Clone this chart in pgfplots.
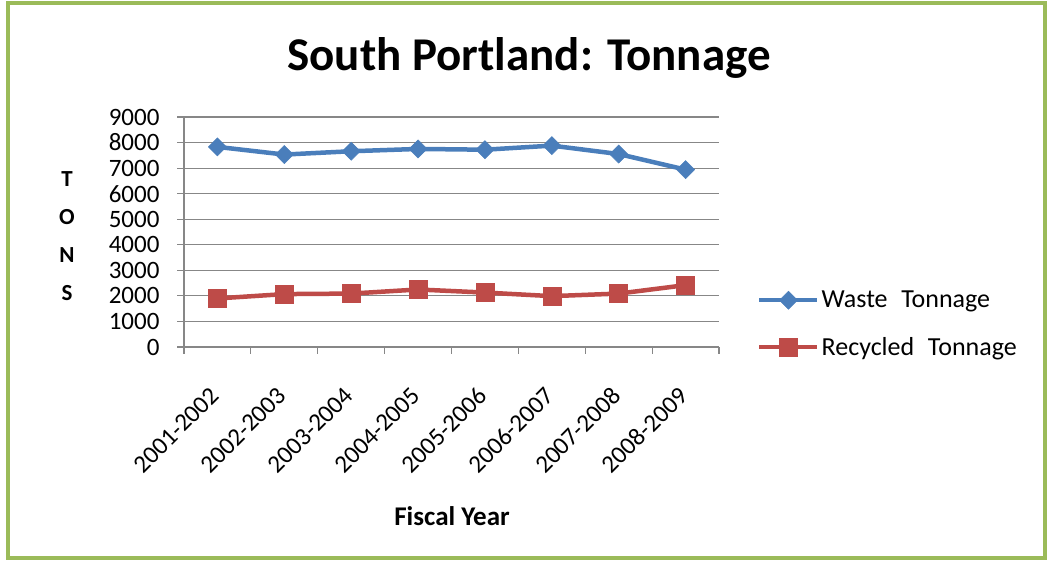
\documentclass[border=0pt]{standalone}
\usepackage{fontspec}
\setmainfont{Carlito}
\usepackage{pgfplots}
\pgfplotsset{compat=1.18}
\definecolor{wasteblue}{HTML}{4A7EBB}
\definecolor{recred}{HTML}{BE4B48}
\definecolor{bordergreen}{HTML}{9BBB59}
\definecolor{gridgray}{HTML}{878787}
\begin{document}
\begin{tikzpicture}[x=1pt,y=1pt]
\useasboundingbox (0,0) rectangle (1053,561);
\fill[white] (0,0) rectangle (1053,561);
\draw[bordergreen, line width=4pt] (8,2.5) rectangle (1044.5,557.5);
\node[font=\bfseries\fontsize{47}{47}\selectfont, anchor=base] at (529,490) {South Portland: Tonnage};
\node[align=center, font=\bfseries\fontsize{23}{38}\selectfont] at (67,325) {T\\O\\N\\S};
\node[font=\bfseries\fontsize{27}{27}\selectfont] at (452,45) {Fiscal Year};
\begin{axis}[
  at={(184pt,214pt)}, anchor=south west,
  width=535pt, height=230pt, scale only axis,
  xmin=0, xmax=8, ymin=0, ymax=9000,
  clip=false,
  axis x line*=bottom, axis y line*=left,
  axis line style={gridgray, line width=1.2pt},
  tick align=outside, major tick length=7pt,
  tick style={gridgray, line width=1.2pt},
  ytick={0,1000,...,9000},
  ymajorgrids, major grid style={gridgray, line width=1.2pt},
  yticklabel style={font=\fontsize{25}{25}\selectfont, xshift=-14pt},
  /pgf/number format/assume math mode=true,
  /pgf/number format/1000 sep={},
  xtick={0,1,...,8}, xticklabels={},
  extra x ticks={0.5,1.5,...,7.5},
  extra x tick labels={2001-2002,2002-2003,2003-2004,2004-2005,2005-2006,2006-2007,2007-2008,2008-2009},
  extra x tick style={major tick length=0pt, xticklabel style={xshift=0pt, yshift=-42pt, rotate=45, anchor=east, font=\fontsize{25}{25}\selectfont}},
  legend style={at={(1.071,0.1)}, anchor=west, draw=none, fill=none,
    font=\fontsize{26}{26}\selectfont, row sep=24pt, inner sep=0pt,
    nodes={inner sep=2pt}},
  legend cell align=left,
  legend image code/.code={\draw[mark repeat=2,mark phase=2] plot coordinates {(0pt,0pt)(29pt,0pt)(58pt,0pt)};},
]
\addplot[wasteblue, line width=4.5pt, mark=square*, mark size=6.4pt, mark options={rotate=45, line width=0.5pt, fill=wasteblue}]
  coordinates {(0.5,7830)(1.5,7530)(2.5,7660)(3.5,7750)(4.5,7720)(5.5,7880)(6.5,7550)(7.5,6940)};
\addlegendentry{Waste\hspace{0.3em} Tonnage}
\addplot[recred, line width=4.5pt, mark=square*, mark size=9pt, mark options={line width=0.5pt, fill=recred}]
  coordinates {(0.5,1900)(1.5,2070)(2.5,2090)(3.5,2250)(4.5,2130)(5.5,1990)(6.5,2090)(7.5,2420)};
\addlegendentry{Recycled\hspace{0.3em} Tonnage}
\end{axis}
\end{tikzpicture}
\end{document}
